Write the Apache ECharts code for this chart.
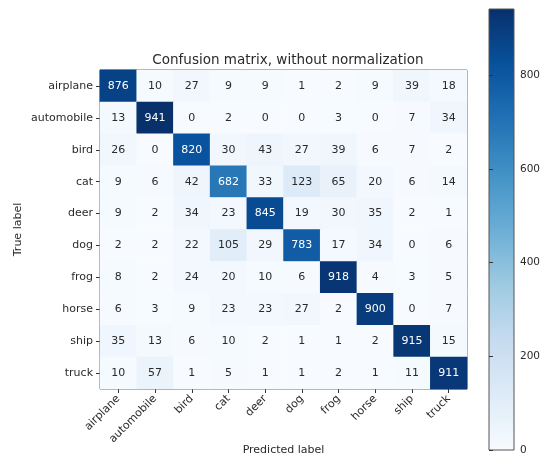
<!DOCTYPE html>
<html>
<head>
<meta charset="utf-8">
<script src="https://cdn.jsdelivr.net/npm/echarts@6/dist/echarts.min.js"></script>
<style>
  html, body { margin: 0; padding: 0; background: #fff; }
  #chart { width: 548px; height: 456px; }
</style>
</head>
<body>
<div id="chart"></div>
<script>
// Class names shared by both axes
const classes = ['airplane', 'automobile', 'bird', 'cat', 'deer', 'dog', 'frog', 'horse', 'ship', 'truck'];

// Confusion counts, one row per true label
const airplane   = [876, 10, 27, 9, 9, 1, 2, 9, 39, 18];
const automobile = [13, 941, 0, 2, 0, 0, 3, 0, 7, 34];
const bird       = [26, 0, 820, 30, 43, 27, 39, 6, 7, 2];
const cat        = [9, 6, 42, 682, 33, 123, 65, 20, 6, 14];
const deer       = [9, 2, 34, 23, 845, 19, 30, 35, 2, 1];
const dog        = [2, 2, 22, 105, 29, 783, 17, 34, 0, 6];
const frog       = [8, 2, 24, 20, 10, 6, 918, 4, 3, 5];
const horse      = [6, 3, 9, 23, 23, 27, 2, 900, 0, 7];
const ship       = [35, 13, 6, 10, 2, 1, 1, 2, 915, 15];
const truck      = [10, 57, 1, 5, 1, 1, 2, 1, 11, 911];
const rows = [airplane, automobile, bird, cat, deer, dog, frog, horse, ship, truck];

// Colorbar tick labels
const colorbarTicks = [0, 200, 400, 600, 800];

// "Blues" colormap stops
const blues = ['#f7fbff', '#deebf7', '#c6dbef', '#9ecae1', '#6baed6', '#4292c6', '#2171b5', '#08519c', '#08306b'];

const cells = [];
rows.forEach((row, r) => row.forEach((v, c) => cells.push([c, r, v])));
const vmax = Math.max(...cells.map(d => d[2]));
const vmin = 0;
const thresh = vmax / 2;

const font = 'DejaVu Sans';
const textColor = '#2a2a2a';
const chart = echarts.init(document.getElementById('chart'), null, { renderer: 'canvas' });

const gradStops = blues.map((c, i) => ({ offset: 1 - i / (blues.length - 1), color: c }));

chart.setOption({
  animation: false,
  backgroundColor: '#fff',
  textStyle: { fontFamily: font },
  title: {
    text: 'Confusion matrix, without normalization',
    left: 283, textAlign: 'center', top: 48,
    textStyle: { fontFamily: font, fontSize: 13.5, fontWeight: 'normal', color: textColor }
  },
  grid: [
    { left: 100, top: 70, width: 367, height: 319, show: true, borderColor: '#444', borderWidth: 1,
      backgroundColor: 'transparent', outerBoundsMode: 'none', containLabel: false },
    { left: 489, top: 9, width: 25, height: 441, show: true, borderColor: '#555', borderWidth: 1,
      outerBoundsMode: 'none', containLabel: false,
      backgroundColor: new echarts.graphic.LinearGradient(0, 0, 0, 1, gradStops) }
  ],
  visualMap: {
    show: false, type: 'continuous', min: vmin, max: vmax, seriesIndex: 0,
    inRange: { color: blues }
  },
  xAxis: [
    {
      gridIndex: 0, type: 'category', data: classes,
      name: 'Predicted label', nameLocation: 'middle', nameGap: 56, nameMoveOverlap: false,
      nameTextStyle: { fontFamily: font, fontSize: 11, color: textColor },
      axisLine: { show: false },
      axisTick: { show: true, alignWithLabel: true, length: 4, lineStyle: { color: '#333' } },
      axisLabel: { rotate: 45, fontFamily: font, fontSize: 11, color: textColor, margin: 8, interval: 0 },
      splitLine: { show: false }
    },
    { gridIndex: 1, type: 'value', show: false, min: 0, max: 1 }
  ],
  yAxis: [
    {
      gridIndex: 0, type: 'category', data: classes, inverse: true,
      name: 'True label', nameLocation: 'middle', nameGap: 76, nameMoveOverlap: false,
      nameTextStyle: { fontFamily: font, fontSize: 11, color: textColor },
      axisLine: { show: false },
      axisTick: { show: true, alignWithLabel: true, length: 4, lineStyle: { color: '#333' } },
      axisLabel: { fontFamily: font, fontSize: 11, color: textColor, margin: 7, interval: 0 },
      splitLine: { show: false }
    },
    {
      gridIndex: 1, type: 'value', position: 'right', min: vmin, max: vmax, interval: 200,
      axisLine: { show: false },
      axisTick: { show: true, length: 4, lineStyle: { color: '#333' } },
      axisLabel: {
        fontFamily: font, fontSize: 10.5, color: textColor, margin: 6, showMaxLabel: false,
        formatter: v => colorbarTicks.includes(v) ? String(v) : ''
      },
      splitLine: { show: false }
    }
  ],
  series: [
    {
      type: 'heatmap', xAxisIndex: 0, yAxisIndex: 0,
      // Annotation colour: white on dark cells, dark on light ones
      data: cells.map(d => ({
        value: d,
        label: { color: d[2] > thresh ? '#fff' : textColor }
      })),
      label: {
        show: true, fontFamily: font, fontSize: 11,
        formatter: p => String(p.value[2])
      },
      itemStyle: { borderWidth: 0 }
    }
  ]
});
</script>
</body>
</html>
